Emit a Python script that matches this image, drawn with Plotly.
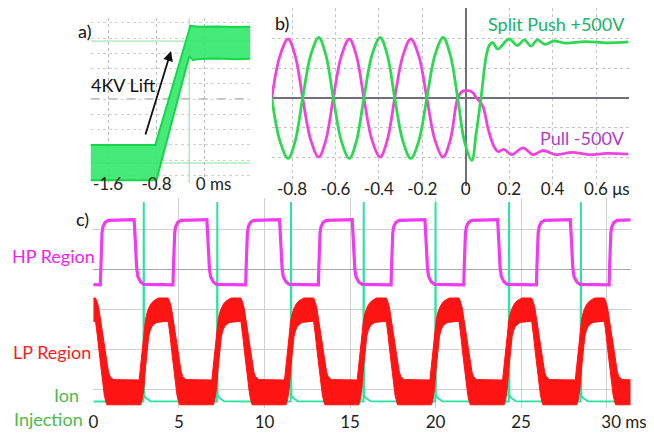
import plotly.graph_objects as go

W, H = 654, 433

# ---------------- Panel a: 4KV lift (time in ms, scope divisions) ----------------
A_T_BAND_LOW = [-1.89, -0.80, -0.26, -0.20, -0.10, 0.20, 0.50, 0.75]
A_V_BAND_LOW = [-2.66, -2.66, 1.40, 1.28, 1.31, 1.33, 1.30, 1.32]
A_T_BAND_HIGH = [-1.89, -0.82, -0.24, -0.10, 0.20, 0.50, 0.75]
A_V_BAND_HIGH = [-1.51, -1.51, 2.40, 2.37, 2.38, 2.36, 2.37]
A_TICKS = [-1.6, -0.8, 0.0]
A_TICK_TEXT = ["-1.6", "-0.8", "\u00a0" * 4 + "0 ms"]
A_CURSOR_LEVELS = [1.90, -2.10]
A_CURSOR_TIME = -0.26

# ---------------- Panel b: split push / pull (time in us, divisions) ----------------
B_T_PUSH = [-0.893, -0.856, -0.818, -0.785, -0.751, -0.714, -0.677, -0.644, -0.610,
            -0.573, -0.536, -0.503, -0.469, -0.432, -0.394, -0.361, -0.327, -0.290,
            -0.253, -0.216, -0.179, -0.142, -0.104, -0.071, -0.037, -0.005, 0.028,
            0.048, 0.072, 0.095, 0.110, 0.125, 0.147, 0.200, 0.237, 0.270, 0.300,
            0.330, 0.365, 0.405, 0.460, 0.550, 0.650, 0.750]
B_V_PUSH = [0.0, -1.45, -2.05, -1.45, 0.0, 1.45, 2.05, 1.45, 0.0,
            -1.45, -2.05, -1.45, 0.0, 1.45, 2.05, 1.45, 0.0, -1.45,
            -2.05, -1.45, 0.0, 1.45, 2.05, 1.45, 0.0, -1.50, -2.12,
            -1.20, 0.10, 1.45, 1.80, 1.88, 1.66, 2.00, 1.78, 1.97, 1.76,
            1.97, 1.82, 1.93, 1.86, 1.91, 1.87, 1.90]
B_T_PULL = [-0.893, -0.856, -0.818, -0.785, -0.751, -0.714, -0.677, -0.644, -0.610,
            -0.573, -0.536, -0.503, -0.469, -0.432, -0.394, -0.361, -0.327, -0.290,
            -0.253, -0.216, -0.179, -0.142, -0.104, -0.071, -0.037, -0.020, 0.000,
            0.030, 0.050, 0.065, 0.080, 0.105, 0.133, 0.150, 0.175, 0.212, 0.264,
            0.310, 0.356, 0.415, 0.490, 0.565, 0.650, 0.750]
B_V_PULL = [0.0, 1.42, 2.0, 1.42, 0.0, -1.42, -2.0, -1.42, 0.0,
            1.42, 2.0, 1.42, 0.0, -1.42, -2.0, -1.42, 0.0, 1.42,
            2.0, 1.42, 0.0, -1.42, -2.0, -1.42, 0.0, 0.20, 0.26,
            0.20, 0.0, -0.12, -0.30, -1.10, -1.69, -1.82, -1.74, -1.92, -1.69,
            -1.92, -1.78, -1.92, -1.84, -1.92, -1.88, -1.90]
B_TICKS = [-0.8, -0.6, -0.4, -0.2, 0.0, 0.2, 0.4, 0.6]
B_TICK_TEXT = ["-0.8", "-0.6", "-0.4", "-0.2", "0", "0.2", "0.4", "\u00a0" * 5 + "0.6 \u03bcs"]

# ---------------- Panel c: HP / LP / ion injection (time in ms, divisions) ----------------
C_HP_RISE_STARTS = [-3.85, 0.40, 4.65, 8.90, 13.15, 17.40, 21.65, 25.90, 30.15]
C_HP_REL_T = [0.00, 0.03, 0.06, 0.10, 0.16, 0.28, 0.47, 1.98, 2.03, 2.08, 2.13, 2.20, 2.36, 2.55]
C_HP_REL_V = [-0.38, 0.10, 0.60, 0.92, 1.08, 1.18, 1.23, 1.25, 0.85, 0.38, 0.02, -0.18, -0.31, -0.37]

C_LP_RISE_STARTS = [-1.58, 2.67, 6.92, 11.17, 15.42, 19.67, 23.92, 28.17, 32.42]
C_LP_UP_REL_T = [0.00, 0.09, 0.18, 0.28, 0.37, 0.46, 0.56, 0.70, 0.85, 1.13, 1.70, 1.79, 1.89, 2.07, 2.23, 2.36, 2.46, 2.55, 2.74]
C_LP_UP_REL_V = [-2.76, -2.38, -1.96, -1.53, -1.25, -1.08, -0.96, -0.85, -0.78, -0.71, -0.71, -0.80, -0.96, -1.46, -1.96, -2.38, -2.56, -2.67, -2.75]
C_LP_LO_REL_T = [0.00, 0.09, 0.18, 0.28, 0.37, 0.47, 0.56, 0.65, 0.75, 0.90, 1.04, 1.70, 1.75, 1.80, 1.93, 2.07, 2.21, 2.30, 2.36]
C_LP_LO_REL_V = [-3.38, -3.38, -3.25, -2.96, -2.46, -2.00, -1.67, -1.52, -1.42, -1.36, -1.32, -1.29, -1.42, -1.63, -2.13, -2.71, -3.13, -3.30, -3.38]

C_ION_SPIKES = [2.94, 7.24, 11.55, 15.80, 20.00, 24.30, 28.50]
C_ION_REL_T = [-0.02, 0.00, 0.02, 0.10, 0.40]
C_ION_REL_V = [-3.30, 1.69, -3.14, -3.20, -3.29]
C_ION_BASE = -3.30
C_T_END = 31.4

C_TICKS = [0, 5, 10, 15, 20, 25, 30]
C_TICK_TEXT = ["0", "5", "10", "15", "20", "25", "\u00a0" * 8 + "30 ms"]


def periodic(starts, rel_t, rel_v):
    xs, ys = [], []
    for s in starts:
        for t, v in zip(rel_t, rel_v):
            xs.append(s + t)
            ys.append(v)
    return xs, ys


hp_x, hp_y = periodic(C_HP_RISE_STARTS, C_HP_REL_T, C_HP_REL_V)
lpu_x, lpu_y = periodic(C_LP_RISE_STARTS, C_LP_UP_REL_T, C_LP_UP_REL_V)
lpl_x, lpl_y = periodic(C_LP_RISE_STARTS, C_LP_LO_REL_T, C_LP_LO_REL_V)
ion_x, ion_y = periodic(C_ION_SPIKES, C_ION_REL_T, C_ION_REL_V)
ion_x = [0.0] + ion_x + [C_T_END]
ion_y = [C_ION_BASE] + ion_y + [C_ION_BASE]

FONT = "Lato, 'Open Sans', sans-serif"


def px(x):
    return x / W


def py(y):
    return 1 - y / H


fig = go.Figure()

# ---- panel a ----
GA = '#14d84a'
fig.add_trace(go.Scatter(x=A_T_BAND_LOW, y=A_V_BAND_LOW, xaxis='x', yaxis='y', mode='lines',
                         line=dict(color=GA, width=2), hoverinfo='skip', showlegend=False))
fig.add_trace(go.Scatter(x=A_T_BAND_HIGH, y=A_V_BAND_HIGH, xaxis='x', yaxis='y', mode='lines',
                         line=dict(color=GA, width=2), fill='tonexty',
                         fillcolor='rgba(50,232,105,0.9)', hoverinfo='skip', showlegend=False))

# ---- panel b ----
fig.add_trace(go.Scatter(x=B_T_PULL, y=B_V_PULL, xaxis='x2', yaxis='y2', mode='lines',
                         line=dict(color='#ee44dd', width=2.8, shape='spline', smoothing=1.0),
                         hoverinfo='skip', showlegend=False))
fig.add_trace(go.Scatter(x=B_T_PUSH, y=B_V_PUSH, xaxis='x2', yaxis='y2', mode='lines',
                         line=dict(color='#2fd852', width=2.8, shape='spline', smoothing=1.0),
                         hoverinfo='skip', showlegend=False))

# ---- panel c ----
fig.add_trace(go.Scatter(x=ion_x, y=ion_y, xaxis='x3', yaxis='y3', mode='lines',
                         line=dict(color='#2ee3a2', width=2), hoverinfo='skip', showlegend=False))
fig.add_trace(go.Scatter(x=lpl_x, y=lpl_y, xaxis='x3', yaxis='y3', mode='lines',
                         line=dict(color='#ff1414', width=1),
                         hoverinfo='skip', showlegend=False))
fig.add_trace(go.Scatter(x=lpu_x, y=lpu_y, xaxis='x3', yaxis='y3', mode='lines',
                         line=dict(color='#ff1414', width=1),
                         fill='tonexty', fillcolor='#ff1414', hoverinfo='skip', showlegend=False))
fig.add_trace(go.Scatter(x=hp_x, y=hp_y, xaxis='x3', yaxis='y3', mode='lines',
                         line=dict(color='#f03cf0', width=3.2),
                         hoverinfo='skip', showlegend=False))

tickfont = dict(family=FONT, size=17, color='#222222')

shapes = []
for lv in A_CURSOR_LEVELS:
    shapes.append(dict(type='line', xref='x domain', yref='y', x0=0, x1=1, y0=lv, y1=lv,
                       line=dict(color='rgba(110,225,130,0.85)', width=1), layer='below'))
shapes.append(dict(type='line', xref='x', yref='y domain', x0=A_CURSOR_TIME, x1=A_CURSOR_TIME,
                   y0=0, y1=1, line=dict(color='rgba(110,225,130,0.85)', width=1), layer='below'))
shapes.append(dict(type='line', xref='x domain', yref='y', x0=0, x1=1, y0=0, y1=0,
                   line=dict(color='#8a8a8a', width=1, dash='dash'), layer='below'))

fig.update_layout(
    width=W, height=H, autosize=False,
    margin=dict(l=0, r=0, t=0, b=0),
    paper_bgcolor='white', plot_bgcolor='white',
    font=dict(family=FONT),
    showlegend=False,
    xaxis=dict(domain=[px(80), px(245)], anchor='y', range=[-1.888, 0.752],
               tickvals=A_TICKS, ticktext=A_TICK_TEXT, tickfont=tickfont, tickangle=0,
               ticklabelstandoff=-11,
               showgrid=True, gridcolor='#b8b8b8', griddash='dot', gridwidth=1,
               zeroline=False, showline=False, ticks=''),
    yaxis=dict(domain=[py(175), py(10)], anchor='x', range=[-2.754, 2.656],
               dtick=0.5, tick0=0, showticklabels=False,
               showgrid=True, gridcolor='#d2d2d2', griddash='dot', gridwidth=1,
               zeroline=False, showline=False, ticks=''),
    xaxis2=dict(domain=[px(267), px(635)], anchor='y2', range=[-0.893, 0.75],
                tickvals=B_TICKS, ticktext=B_TICK_TEXT, tickfont=tickfont, tickangle=0,
                ticklabelstandoff=-9,
                showgrid=True, gridcolor='#c4c4c4', griddash='dot', gridwidth=1,
                zeroline=True, zerolinecolor='#6f6f80', zerolinewidth=1.6,
                showline=False, ticks=''),
    yaxis2=dict(domain=[py(178), py(0)], anchor='x2', range=[-2.983, 3.05],
                tickvals=[-2, -1, 0, 1, 2], showticklabels=False,
                showgrid=True, gridcolor='#c4c4c4', griddash='dot', gridwidth=1,
                zeroline=True, zerolinecolor='#6f6f80', zerolinewidth=1.6,
                showline=False, ticks=''),
    xaxis3=dict(domain=[px(83), px(637)], anchor='y3', range=[0, C_T_END],
                tickvals=C_TICKS, ticktext=C_TICK_TEXT, tickfont=tickfont, tickangle=0,
                ticks='', ticklabelstandoff=2,
                showgrid=True, gridcolor='#d0d0d0', gridwidth=1,
                zeroline=False, showline=False),
    yaxis3=dict(domain=[py(400), py(190)], anchor='x3', range=[-3.46, 1.79],
                tickvals=[1, 0, -1, -2, -3], showticklabels=False,
                showgrid=True, gridcolor='#d0d0d0', gridwidth=1,
                zeroline=True, zerolinecolor='#a8a8a8', zerolinewidth=1,
                showline=False, ticks=''),
    shapes=shapes,
)


def label(text, x, y, color, size=18, xanchor='center'):
    fig.add_annotation(text=text, x=px(x), y=py(y), xref='paper', yref='paper',
                       showarrow=False, xanchor=xanchor, yanchor='middle',
                       font=dict(family=FONT, size=size, color=color))


label('a)', 74, 23, '#111111', 18)
label('4KV Lift', 114, 77, '#111111', 18)
label('b)', 277, 15, '#111111', 18)
label('Split Push +500V', 633, 16, '#17b36a', 18, xanchor='right')
label('Pull -500V', 633, 130, '#b03cc6', 18, xanchor='right')
label('c)', 72, 211, '#111111', 18)
label('HP Region', 42, 248, '#ee22ee', 18)
label('LP Region', 40, 344, '#ff1a1a', 18)
label('Ion', 55, 387, '#4cba4c', 18)
label('Injection', 37, 411, '#4cba4c', 18)

fig.add_annotation(x=px(163), y=py(43), xref='paper', yref='paper', text='',
                   showarrow=True, ax=-26, ay=85, arrowhead=2, arrowsize=1.1,
                   arrowwidth=1.8, arrowcolor='#111111')

fig.write_html("out.html")
